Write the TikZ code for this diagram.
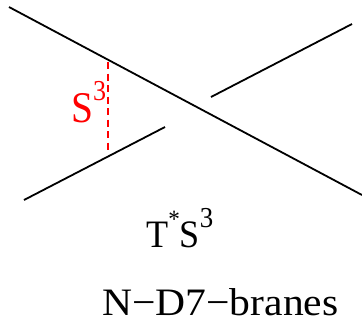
\documentclass[tikz,border=0pt]{standalone}
\usepackage{fontspec}
\setmainfont{Liberation Serif}
\newcommand\upidx[2]{\raisebox{0.5em}{\fontsize{#1}{#1}\selectfont #2}}
\begin{document}
\begin{tikzpicture}[x=1bp,y=-1bp,
  brane/.style={line width=1.8bp,black},
  sphere/.style={line width=1.7bp,red,dash pattern=on 7bp off 4.5bp},
  lbl/.style={inner sep=0pt,anchor=base west}]
\useasboundingbox (0,0) rectangle (362,324);
\coordinate (a1) at (9,7);
\coordinate (a2) at (362,195);
\coordinate (b1) at (24,200);
\coordinate (b2) at (165,127);
\coordinate (c1) at (211,97);
\coordinate (c2) at (352,24);
\coordinate (s1) at (108,62);
\coordinate (s2) at (108,151);
\draw[brane] (a1) -- (a2);
\draw[brane] (b1) -- (b2);
\draw[brane] (c1) -- (c2);
\draw[sphere] (s1) -- (s2);
\node[lbl,text=red,xscale=0.9,font=\fontsize{44}{46}\selectfont] (S) at (71,122) {S\upidx{29}{3}};
\node[lbl,xscale=0.93,font=\fontsize{39}{40}\selectfont] (T) at (146,247) {T\upidx{25}{*}S\upidx{29}{3}};
\node[lbl,xscale=1.07,font=\fontsize{39}{42}\selectfont] (N) at (102,315) {N−D7−branes};
\end{tikzpicture}
\end{document}
